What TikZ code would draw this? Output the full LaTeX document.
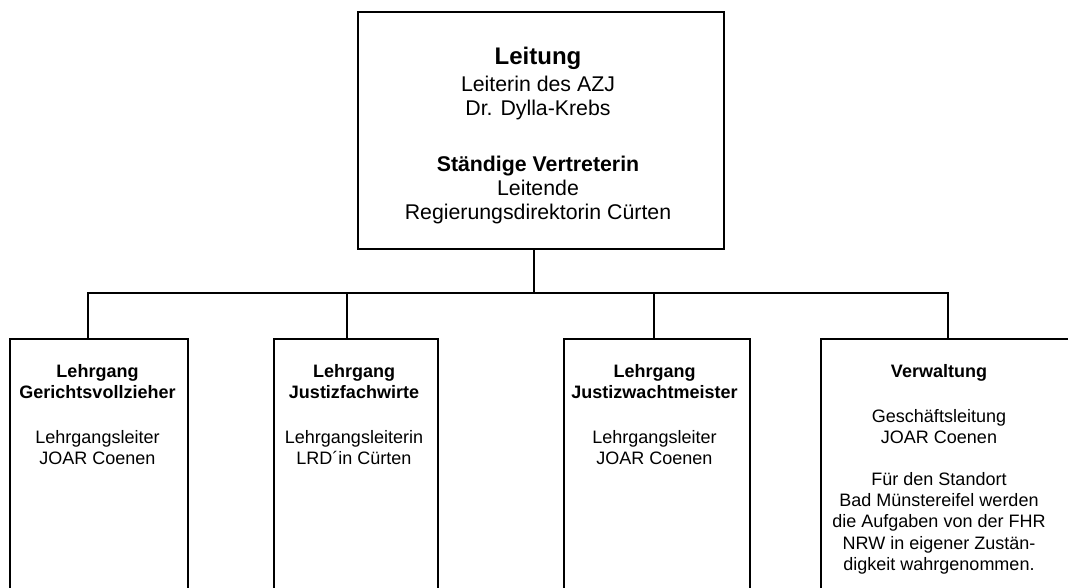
\documentclass[tikz,border=0pt]{standalone}
\usepackage{fontspec}
\setmainfont{Liberation Sans}
\begin{document}
\begin{tikzpicture}[x=1pt,y=-1pt]
\tikzset{
  box/.style={draw, line width=2pt, inner sep=0pt, anchor=north west},
  txt/.style={anchor=base, inner sep=0pt},
  conn/.style={line width=2pt}
}
\useasboundingbox (0,0) rectangle (1068,588);
\clip (0,0) rectangle (1068,588);

% boxes
\node[box, minimum width=366pt, minimum height=237pt] (top) at (357,11) {};
\node[box, minimum width=178pt, minimum height=300pt] (b1) at (9,338) {};
\node[box, minimum width=164pt, minimum height=300pt] (b2) at (273,338) {};
\node[box, minimum width=186pt, minimum height=300pt] (b3) at (563,338) {};
\node[box, minimum width=260pt, minimum height=300pt] (b4) at (820,338) {};

% texts
\node[txt] (t0) at (538,65) {\parbox[t]{360pt}{\centering\fontsize{21.3}{24}\selectfont
  {\fontsize{24}{28}\selectfont\bfseries Leitung}\\[3pt]
  Leiterin des AZJ\\
  Dr. Dylla-Krebs\\[32pt]
  \textbf{Ständige Vertreterin}\\
  Leitende\\
  Regierungsdirektorin Cürten\par}};

\node[txt] (t1) at (97.5,377) {\parbox[t]{176pt}{\centering\fontsize{18}{21.3}\selectfont
  \textbf{Lehrgang}\\
  \textbf{Gerichtsvollzieher}\\[23.7pt]
  Lehrgangsleiter\\
  JOAR Coenen\par}};

\node[txt] (t2) at (354,377) {\parbox[t]{162pt}{\centering\fontsize{18}{21.3}\selectfont
  \textbf{Lehrgang}\\
  \textbf{Justizfachwirte}\\[23.7pt]
  Lehrgangsleiterin\\
  LRD´in Cürten\par}};

\node[txt] (t3) at (654.5,377) {\parbox[t]{184pt}{\centering\fontsize{18}{21.3}\selectfont
  \textbf{Lehrgang}\\
  \textbf{Justizwachtmeister}\\[23.7pt]
  Lehrgangsleiter\\
  JOAR Coenen\par}};

\node[txt] (t4) at (939,377) {\parbox[t]{236pt}{\centering\fontsize{18}{21.3}\selectfont
  \textbf{Verwaltung}\\[23.7pt]
  Geschäftsleitung\\
  JOAR Coenen\\[20.7pt]
  Für den Standort\\
  Bad Münstereifel werden\\
  die Aufgaben von der FHR\\
  NRW in eigener Zustän-\\
  digkeit wahrgenommen.\par}};

% connectors
\coordinate (d1) at (88,293);
\coordinate (d2) at (347,293);
\coordinate (d3) at (654,293);
\coordinate (d4) at (948,293);
\draw[conn] ([xshift=-7pt]top.south) -- ([xshift=-7pt]top.south |- d1);
\draw[conn] (d1 |- b1.north) -- (d1) -- (d4) -- (d4 |- b4.north);
\draw[conn] (d2) -- (d2 |- b2.north);
\draw[conn] (d3) -- (d3 |- b3.north);
\end{tikzpicture}
\end{document}
